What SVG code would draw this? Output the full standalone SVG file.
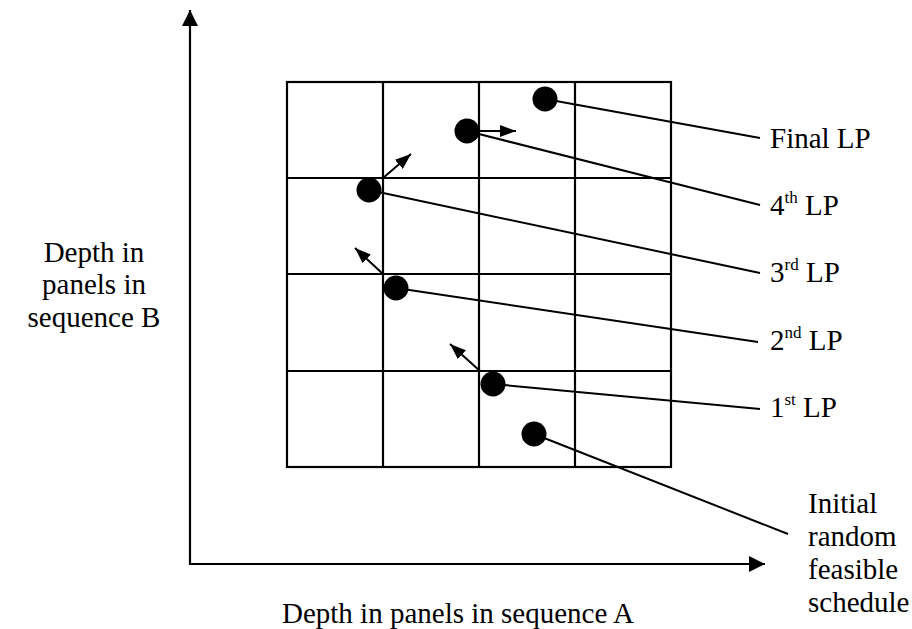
<svg xmlns="http://www.w3.org/2000/svg" width="912" height="629" viewBox="0 0 912 629">
<style>
.grid{fill:none;stroke:#000;stroke-width:2.2}
.axis{stroke:#000;stroke-width:2.2;fill:none}
.lead{stroke:#000;stroke-width:2;fill:none}
.mv{stroke:#000;stroke-width:2;fill:none}
.dot{fill:#000}
text{font-family:'Liberation Serif','Times New Roman','DejaVu Serif',serif;font-size:29px;fill:#000}
.sup{font-size:17px}
</style>
<defs>
<marker id="ah" viewBox="0 0 16 12" refX="16" refY="6" markerWidth="16" markerHeight="12" markerUnits="userSpaceOnUse" orient="auto">
<path d="M0,0 L16,6 L0,12 z" fill="#000"/>
</marker>
<marker id="axh" viewBox="0 0 16 16" refX="16" refY="8" markerWidth="16" markerHeight="16" markerUnits="userSpaceOnUse" orient="auto">
<path d="M0,0 L16,8 L0,16 z" fill="#000"/>
</marker>
</defs>
<g id="axes">
<line class="axis" x1="190" y1="565" x2="190" y2="10" marker-end="url(#axh)"/>
<line class="axis" x1="189" y1="564" x2="765" y2="564" marker-end="url(#axh)"/>
</g>
<g id="grid">
<rect class="grid" x="287" y="82" width="384" height="385"/>
<line class="grid" x1="383" y1="82" x2="383" y2="467"/>
<line class="grid" x1="479" y1="82" x2="479" y2="467"/>
<line class="grid" x1="575" y1="82" x2="575" y2="467"/>
<line class="grid" x1="287" y1="178" x2="671" y2="178"/>
<line class="grid" x1="287" y1="274" x2="671" y2="274"/>
<line class="grid" x1="287" y1="371" x2="671" y2="371"/>
</g>
<g id="connectors">
<line class="lead" x1="545" y1="99" x2="760" y2="138"/>
<line class="lead" x1="467" y1="131" x2="760" y2="205"/>
<line class="lead" x1="369" y1="190" x2="760" y2="273"/>
<line class="lead" x1="396" y1="288" x2="758" y2="342"/>
<line class="lead" x1="493" y1="384" x2="760" y2="409"/>
<line class="lead" x1="534" y1="434" x2="788" y2="534"/>
<line class="mv" x1="478" y1="131" x2="516" y2="131" marker-end="url(#ah)"/>
<line class="mv" x1="383" y1="178" x2="411" y2="154" marker-end="url(#ah)"/>
<line class="mv" x1="383" y1="274" x2="355" y2="248" marker-end="url(#ah)"/>
<line class="mv" x1="480" y1="371" x2="450" y2="344" marker-end="url(#ah)"/>
</g>
<g font-family="Liberation Serif, Times New Roman, serif">
<g id="final"><circle class="dot" cx="545" cy="99" r="12.5"/><text x="770" y="148">Final LP</text></g>
<g id="lp4"><circle class="dot" cx="467" cy="131" r="12.5"/><text x="770" y="215">4<tspan class="sup" dy="-12">th</tspan><tspan dy="12"> LP</tspan></text></g>
<g id="lp3"><circle class="dot" cx="369" cy="190" r="12.5"/><text x="770" y="282">3<tspan class="sup" dy="-12">rd</tspan><tspan dy="12"> LP</tspan></text></g>
<g id="lp2"><circle class="dot" cx="396" cy="288" r="12.5"/><text x="770" y="350">2<tspan class="sup" dy="-12">nd</tspan><tspan dy="12"> LP</tspan></text></g>
<g id="lp1"><circle class="dot" cx="493" cy="384" r="12.5"/><text x="770" y="417">1<tspan class="sup" dy="-12">st</tspan><tspan dy="12"> LP</tspan></text></g>
<g id="initial"><circle class="dot" cx="534" cy="434" r="12.5"/>
<text x="808" y="513">Initial</text>
<text x="808" y="546">random</text>
<text x="808" y="579">feasible</text>
<text x="808" y="612">schedule</text></g>
<g id="ylabel">
<text x="94" y="262" text-anchor="middle">Depth in</text>
<text x="94" y="294" text-anchor="middle">panels in</text>
<text x="94" y="327" text-anchor="middle">sequence B</text>
</g>
<g id="xlabel"><text x="282" y="623">Depth in panels in sequence A</text></g>
</g>
</svg>
